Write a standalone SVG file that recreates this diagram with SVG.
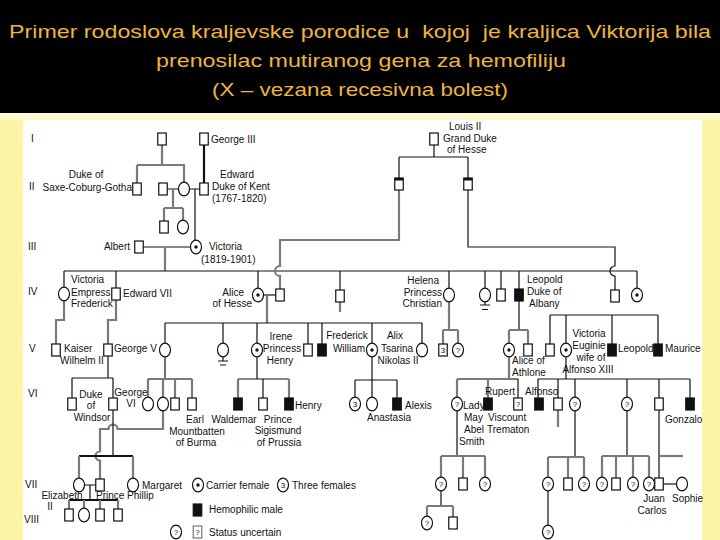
<svg xmlns="http://www.w3.org/2000/svg" width="720" height="540" viewBox="0 0 720 540">
<style>
.t{font-family:"Liberation Sans",Arial,sans-serif;font-size:10px;fill:#111}
.m{text-anchor:middle}
.e{text-anchor:end}
.s{fill:#fff;stroke:#111;stroke-width:1.2}
.a{fill:#111;stroke:#111;stroke-width:1.2}
.c{fill:none;stroke:#111;stroke-width:1.2}
.g{fill:none;stroke:#7a7a7a;stroke-width:2.2}
.k{fill:none;stroke:#111;stroke-width:2.2}
.d{fill:#111}
.q{font-family:"Liberation Sans",Arial,sans-serif;font-size:8px;text-anchor:middle;fill:#111}
.gen{font-family:"Liberation Sans",Arial,sans-serif;font-size:10px;fill:#111}
.title{font-family:"Liberation Sans",Arial,sans-serif;font-size:19px;fill:#EDB43E;text-anchor:middle;white-space:pre}
</style>
<defs>
<rect id="sq" x="-4.25" y="-6" width="8.5" height="12"/>
<ellipse id="ci" cx="0" cy="0" rx="5.5" ry="6.8"/>
</defs>
<rect x="0" y="0" width="720" height="540" fill="#FEF4A6"/>
<rect x="0" y="0" width="720" height="113" fill="#000"/>
<rect x="0" y="113" width="720" height="7" fill="#FFF9D2"/>
<rect x="23" y="120" width="679" height="420" fill="#fff"/>
<g id="title">
<text class="title" x="360" y="38" textLength="702" lengthAdjust="spacingAndGlyphs">Primer rodoslova kraljevske porodice u  kojoj  je kraljica Viktorija bila</text>
<text class="title" x="361" y="67" textLength="410" lengthAdjust="spacingAndGlyphs">prenosilac mutiranog gena za hemofiliju</text>
<text class="title" x="360" y="96" textLength="296" lengthAdjust="spacingAndGlyphs">(X – vezana recesivna bolest)</text>
</g>
<g id="generations">
<text class="gen" x="31" y="142">I</text>
<text class="gen" x="29" y="190">II</text>
<text class="gen" x="28" y="250">III</text>
<text class="gen" x="28" y="295">IV</text>
<text class="gen" x="29" y="352">V</text>
<text class="gen" x="28" y="397">VI</text>
<text class="gen" x="25" y="488">VII</text>
<text class="gen" x="24" y="523">VIII</text>
</g>
<g id="connectors">
<path class="g" d="M162,145V165M137,165H185M137,165V183M184,165V182.2"/>
<path class="k" d="M204,145V183"/>
<path class="c" d="M167.3,189H178.5M189.5,189H199.8"/>
<path class="g" d="M173,189V208M164,208H183M164,208V221M183,208V220.2"/>
<path class="c" d="M195,189V240.2"/>
<path class="c" d="M434,145V157M399,157H468M399,157V178M468,157V178"/>
<path class="c" d="M143.3,247H190.5"/>
<path class="g" d="M165,247V271"/>
<path class="c" d="M64,271H637M64,271V287.2M116,271V288M258,271V288.2M340,271V290M449,271V288.2M485,271V288.2M501,271V289M519,271V289M637,271V288.2"/>
<path class="g" d="M399,190V240H280V266A5,5 0 0 0 280,276V289"/>
<path class="c" d="M468,190V247H615V266A5,5 0 0 0 615,276V290"/>
<path class="g" d="M64,300.8V320H56V344M116,300V320H108V344"/>
<path class="c" d="M263.5,295H275.8"/>
<path class="g" d="M267,295V323"/>
<path class="c" d="M165,323H422M165,323V343.2M223,323V343.2M257,323V343.2M308,323V344M322,323V344M372,323V343.2M422,323V343.2"/>
<path class="g" d="M340,302V312"/>
<path class="g" d="M449,301.8V330M443,330H458M443,330V344M458,330V343.2"/>
<path class="c" d="M485,301.8V305M480,305H490M482,309.5H488"/>
<path class="c" d="M223,356.8V361M218,361H228M220,365H226"/>
<path class="c" d="M519,301V330"/>
<path class="g" d="M509,330H528M509,330V343.2M528,330V344"/>
<path class="c" d="M550,315H658M550,315V344M566,315V343.2M612,315V344M658,315V344"/>
<path class="c" d="M108,356V378M72,378H113M72,378V398M113,378V398"/>
<path class="c" d="M165,356.8V379"/>
<path class="g" d="M148,379H192M148,379V397.2M163,379V397.2M175,379V398M192,379V398"/>
<path class="c" d="M257,356.8V379M238,379H289M263,379V398"/>
<path class="g" d="M238,379V398M289,379V398"/>
<path class="c" d="M372,356.8V380M355,380H397M355,380V397.2M372,380V397.2M397,380V398"/>
<path class="g" d="M509,356.8V379M457,379H518M457,379V397.2M488,379V398"/>
<path class="c" d="M518,379V398"/>
<path class="c" d="M566,356.8V379M538,379H690M538,379V398M558,379V398M575,379V397.2M627,379V397.2M659,379V398M690,379V398"/>
<path class="g" d="M558,410V427"/>
<path class="g" d="M163,410.8V429H117.5A4.5,4.5 0 0 0 108.5,429H100V451.5A4.5,4.5 0 0 0 100,460.5V479"/>
<path class="c" d="M113,410V456"/>
<path class="k" d="M79,456H133"/>
<path class="g" d="M79,456V478.2M133,456V478.2"/>
<path class="c" d="M84.5,485H95.8M90,485V500"/>
<path class="k" d="M69,500H118"/>
<path class="g" d="M69,500V509M84,500V508.2M100,500V509M118,500V509"/>
<path class="c" d="M457,410.8V456"/>
<path class="g" d="M441,456H485M441,456V477.2M463,456V478M485,456V477.2"/>
<path class="c" d="M441,490.8V506"/>
<path class="g" d="M427,506H453M427,506V516.2M453,506V517"/>
<path class="c" d="M575,410.8V457"/>
<path class="g" d="M548,457H584M548,457V477.2M568,457V478M584,457V477.2"/>
<path class="c" d="M548,490.8V526.2"/>
<path class="c" d="M627,410.8V456"/>
<path class="g" d="M602,456H649M602,456V477.2M616,456V478M633,456V477.2M649,456V477.2"/>
<path class="c" d="M659,410V478"/>
<path class="g" d="M659,456H683"/>
<path class="c" d="M663.3,484H676.5"/>
</g>
<!-- Generation I -->
<g id="g1_unknown"><use href="#sq" class="s" x="162" y="139"/></g>
<g id="george3"><use href="#sq" class="s" x="204" y="139"/><text class="t" x="211" y="143">George III</text></g>
<g id="louis2"><use href="#sq" class="s" x="434" y="139"/><text class="t" x="449" y="130">Louis II</text><text class="t" x="443" y="142">Grand Duke</text><text class="t" x="447" y="153">of Hesse</text></g>
<!-- Generation II -->
<g id="saxe"><use href="#sq" class="s" x="137" y="189"/><text class="t m" x="86" y="178">Duke of</text><text class="t e" x="132" y="191">Saxe-Coburg-Gotha</text></g>
<g id="g2_sq"><use href="#sq" class="s" x="163" y="189"/></g>
<g id="g2_ci"><use href="#ci" class="s" x="184" y="189"/></g>
<g id="edward"><use href="#sq" class="s" x="204" y="189"/><text class="t m" x="237" y="178">Edward</text><text class="t" x="212" y="190">Duke of Kent</text><text class="t" x="212" y="202">(1767-1820)</text></g>
<g id="hesse_a"><use href="#sq" class="s" x="399" y="184"/><rect class="d" x="394.75" y="178" width="8.5" height="2.5"/></g>
<g id="hesse_b"><use href="#sq" class="s" x="468" y="184"/><rect class="d" x="463.75" y="178" width="8.5" height="2.5"/></g>
<!-- Generation III -->
<g id="g3_sq"><use href="#sq" class="s" x="164" y="227"/></g>
<g id="g3_ci"><use href="#ci" class="s" x="183" y="227"/></g>
<g id="albert"><use href="#sq" class="s" x="139" y="247"/><text class="t e" x="130" y="250">Albert</text></g>
<g id="victoria"><use href="#ci" class="s" x="196" y="247"/><circle class="d" cx="196" cy="247" r="1.7"/><text class="t" x="209" y="250">Victoria</text><text class="t" x="201" y="263">(1819-1901)</text></g>
<!-- Generation IV -->
<g id="vic_empress"><use href="#ci" class="s" x="64" y="294"/><text class="t" x="71" y="283">Victoria</text><text class="t" x="71" y="296">Empress</text><text class="t" x="71" y="307">Frederick</text></g>
<g id="edward7"><use href="#sq" class="s" x="116" y="294"/><text class="t" x="123" y="297">Edward VII</text></g>
<g id="alice"><use href="#ci" class="s" x="258" y="295"/><circle class="d" cx="258" cy="295" r="1.7"/><text class="t e" x="244" y="296">Alice</text><text class="t e" x="252" y="307">of Hesse</text></g>
<g id="louis4"><use href="#sq" class="s" x="280" y="295"/></g>
<g id="alfred"><use href="#sq" class="s" x="340" y="296"/></g>
<g id="helena"><use href="#ci" class="s" x="449" y="295"/><text class="t e" x="439" y="284">Helena</text><text class="t e" x="442" y="296">Princess</text><text class="t e" x="442" y="307">Christian</text></g>
<g id="g4_ci"><use href="#ci" class="s" x="485" y="295"/></g>
<g id="arthur"><use href="#sq" class="s" x="501" y="295"/></g>
<g id="leopold_albany"><use href="#sq" class="a" x="519" y="295"/><text class="t" x="527" y="283">Leopold</text><text class="t" x="527" y="295">Duke of</text><text class="t" x="529" y="307">Albany</text></g>
<g id="henry_b"><use href="#sq" class="s" x="615" y="296"/></g>
<g id="beatrice"><use href="#ci" class="s" x="637" y="295"/><circle class="d" cx="637" cy="295" r="1.7"/></g>
<!-- Generation V -->
<g id="kaiser"><use href="#sq" class="s" x="56" y="350"/><text class="t" x="64" y="352">Kaiser</text><text class="t" x="60" y="364">Wilhelm II</text></g>
<g id="george5"><use href="#sq" class="s" x="108" y="350"/><text class="t" x="114" y="352">George V</text></g>
<g id="vic_hesse"><use href="#ci" class="s" x="165" y="350"/></g>
<g id="g5_died"><use href="#ci" class="s" x="223" y="350"/></g>
<g id="irene"><use href="#ci" class="s" x="257" y="350"/><circle class="d" cx="257" cy="350" r="1.7"/><text class="t m" x="281" y="340">Irene</text><text class="t m" x="282" y="352">Princess</text><text class="t m" x="280" y="364">Henry</text></g>
<g id="ernest"><use href="#sq" class="s" x="308" y="350"/></g>
<g id="fw"><use href="#sq" class="a" x="322" y="350"/><text class="t m" x="347" y="339">Frederick</text><text class="t m" x="349" y="352">William</text></g>
<g id="alix"><use href="#ci" class="s" x="372" y="350"/><circle class="d" cx="372" cy="350" r="1.7"/><text class="t m" x="395" y="339">Alix</text><text class="t m" x="397" y="352">Tsarina</text><text class="t m" x="398" y="364">Nikolas II</text></g>
<g id="g5_ci"><use href="#ci" class="s" x="422" y="350"/></g>
<g id="helena_sq3"><use href="#sq" class="s" x="443" y="350"/><text class="q" x="443" y="353">3</text></g>
<g id="helena_ciq"><use href="#ci" class="s" x="458" y="350"/><text class="q" x="458" y="353">?</text></g>
<g id="alice_athlone"><use href="#ci" class="s" x="509" y="350"/><circle class="d" cx="509" cy="350" r="1.7"/><text class="t" x="512" y="364">Alice of</text><text class="t" x="512" y="376">Athlone</text></g>
<g id="charles"><use href="#sq" class="s" x="528" y="350"/></g>
<g id="g5_sq"><use href="#sq" class="s" x="550" y="350"/></g>
<g id="vic_eugenie"><use href="#ci" class="s" x="566" y="350"/><circle class="d" cx="566" cy="350" r="1.7"/><text class="t m" x="589" y="337">Victoria</text><text class="t m" x="589" y="349">Euginie</text><text class="t m" x="591" y="361">wife of</text><text class="t m" x="588" y="373">Alfonso XIII</text></g>
<g id="leopold_b"><use href="#sq" class="a" x="612" y="350"/><text class="t" x="618" y="352">Leopold</text></g>
<g id="maurice"><use href="#sq" class="a" x="658" y="350"/><text class="t" x="665" y="352">Maurice</text></g>
<!-- Generation VI -->
<g id="windsor"><use href="#sq" class="s" x="72" y="404"/><text class="t m" x="91" y="398">Duke</text><text class="t m" x="91" y="409">of</text><text class="t m" x="92" y="421">Windsor</text></g>
<g id="george6"><use href="#sq" class="s" x="113" y="404"/><text class="t m" x="131" y="396">George</text><text class="t m" x="131" y="407">VI</text></g>
<g id="mb_ci1"><use href="#ci" class="s" x="148" y="404"/></g>
<g id="mb_ci2"><use href="#ci" class="s" x="163" y="404"/></g>
<g id="mb_sq1"><use href="#sq" class="s" x="175" y="404"/></g>
<g id="mountbatten"><use href="#sq" class="s" x="192" y="404"/><text class="t m" x="195" y="423">Earl</text><text class="t m" x="197" y="435">Mountbatten</text><text class="t m" x="196" y="446">of Burma</text></g>
<g id="waldemar"><use href="#sq" class="a" x="238" y="404"/><text class="t m" x="234" y="423">Waldemar</text></g>
<g id="sigismund"><use href="#sq" class="s" x="263" y="404"/><text class="t m" x="278" y="423">Prince</text><text class="t m" x="278" y="434">Sigismund</text><text class="t m" x="279" y="446">of Prussia</text></g>
<g id="henry"><use href="#sq" class="a" x="289" y="404"/><text class="t" x="295" y="409">Henry</text></g>
<g id="three_f"><use href="#ci" class="s" x="355" y="404"/><text class="q" x="355" y="407">3</text></g>
<g id="anastasia"><use href="#ci" class="s" x="372" y="404"/><text class="t m" x="389" y="421">Anastasia</text></g>
<g id="alexis"><use href="#sq" class="a" x="397" y="404"/><text class="t" x="405" y="409">Alexis</text></g>
<g id="lady_may"><use href="#ci" class="s" x="457" y="404"/><text class="q" x="457" y="407">?</text><text class="t" x="463" y="409">Lady</text><text class="t" x="464" y="421">May</text><text class="t" x="464" y="433">Abel</text><text class="t" x="459" y="445">Smith</text></g>
<g id="rupert"><use href="#sq" class="a" x="488" y="404"/><text class="t" x="485" y="395">Rupert</text><text class="t" x="488" y="421">Viscount</text><text class="t" x="487" y="433">Trematon</text></g>
<g id="trematon"><use href="#sq" class="s" x="518" y="404"/><text class="q" x="518" y="407">?</text></g>
<g id="alfonso"><use href="#sq" class="a" x="539" y="404"/><text class="t" x="525" y="395">Alfonso</text></g>
<g id="g6_sq"><use href="#sq" class="s" x="558" y="404"/></g>
<g id="g6_ciq1"><use href="#ci" class="s" x="575" y="404"/><text class="q" x="575" y="407">?</text></g>
<g id="g6_ciq2"><use href="#ci" class="s" x="627" y="404"/><text class="q" x="627" y="407">?</text></g>
<g id="juan"><use href="#sq" class="s" x="659" y="404"/></g>
<g id="gonzalo"><use href="#sq" class="a" x="690" y="404"/><text class="t" x="665" y="423">Gonzalo</text></g>
<!-- Generation VII -->
<g id="elizabeth"><use href="#ci" class="s" x="79" y="485"/><text class="t m" x="62" y="499">Elizabeth</text><text class="t m" x="50" y="510">II</text></g>
<g id="philip"><use href="#sq" class="s" x="100" y="485"/><text class="t" x="96" y="499">Prince Phillip</text></g>
<g id="margaret"><use href="#ci" class="s" x="133" y="485"/><text class="t" x="142" y="489">Margaret</text></g>
<g id="g7_q1"><use href="#ci" class="s" x="441" y="484"/><text class="q" x="441" y="487">?</text></g>
<g id="g7_sq1"><use href="#sq" class="s" x="463" y="484"/></g>
<g id="g7_q2"><use href="#ci" class="s" x="485" y="484"/><text class="q" x="485" y="487">?</text></g>
<g id="g7_q3"><use href="#ci" class="s" x="548" y="484"/><text class="q" x="548" y="487">?</text></g>
<g id="g7_sq2"><use href="#sq" class="s" x="568" y="484"/></g>
<g id="g7_q4"><use href="#ci" class="s" x="584" y="484"/><text class="q" x="584" y="487">?</text></g>
<g id="g7_q5"><use href="#ci" class="s" x="602" y="484"/><text class="q" x="602" y="487">?</text></g>
<g id="g7_sq3"><use href="#sq" class="s" x="616" y="484"/></g>
<g id="g7_q6"><use href="#ci" class="s" x="633" y="484"/><text class="q" x="633" y="487">?</text></g>
<g id="g7_q7"><use href="#ci" class="s" x="649" y="484"/><text class="q" x="649" y="487">?</text></g>
<g id="juan_carlos"><use href="#sq" class="s" x="659" y="484"/><text class="t m" x="654" y="502">Juan</text><text class="t m" x="652" y="514">Carlos</text></g>
<g id="sophie"><use href="#ci" class="s" x="682" y="484"/><text class="t" x="672" y="502">Sophie</text></g>
<!-- Generation VIII -->
<g id="g8_sq1"><use href="#sq" class="s" x="69" y="515"/></g>
<g id="g8_ci1"><use href="#ci" class="s" x="84" y="515"/></g>
<g id="g8_sq2"><use href="#sq" class="s" x="100" y="515"/></g>
<g id="g8_sq3"><use href="#sq" class="s" x="118" y="515"/></g>
<g id="g8_q1"><use href="#ci" class="s" x="427" y="523"/><text class="q" x="427" y="526">?</text></g>
<g id="g8_sq4"><use href="#sq" class="s" x="453" y="523"/></g>
<g id="g8_q2"><use href="#ci" class="s" x="548" y="532"/><text class="q" x="548" y="535">?</text></g>
<!-- Legend -->
<g id="legend">
<use href="#ci" class="s" x="198" y="485"/><circle class="d" cx="198" cy="485" r="1.7"/>
<text class="t" x="206" y="489">Carrier female</text>
<use href="#ci" class="s" x="283" y="485"/><text class="q" x="283" y="488">3</text>
<text class="t" x="292" y="489">Three females</text>
<use href="#sq" class="a" x="197.5" y="510"/>
<text class="t" x="209" y="513">Hemophilic male</text>
<use href="#ci" class="s" x="176" y="532"/><text class="q" x="176" y="535">?</text>
<use href="#sq" class="s" x="197.5" y="532" style="stroke:#777"/><text class="q" x="197.5" y="535">?</text>
<text class="t" x="209" y="536">Status uncertain</text>
</g>
</svg>
